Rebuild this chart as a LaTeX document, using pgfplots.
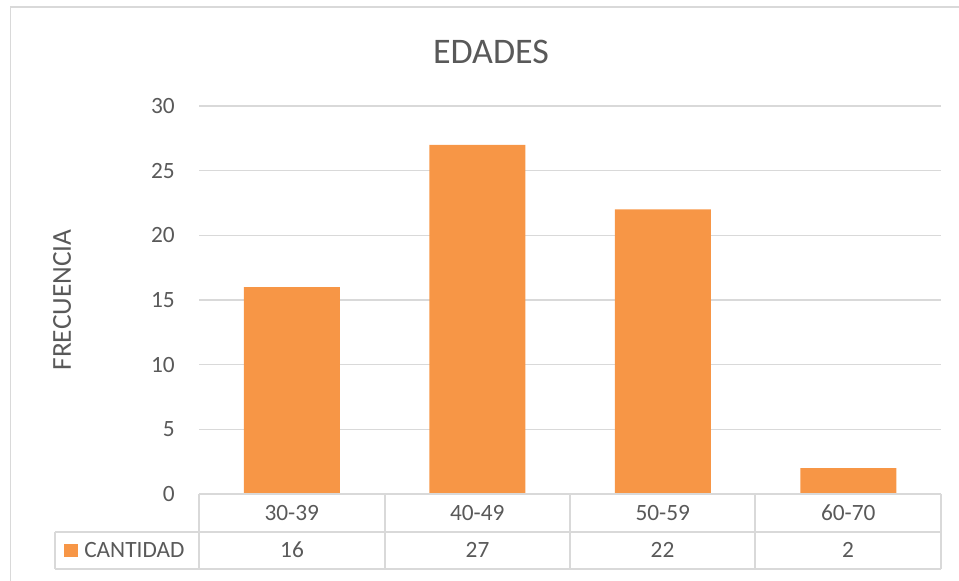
\documentclass[border=0pt]{standalone}
\usepackage{fontspec}
\setmainfont{Carlito}
\usepackage{pgfplots}
\pgfplotsset{compat=1.18}
\definecolor{barc}{HTML}{F79646}
\definecolor{txt}{HTML}{595959}
\definecolor{gridc}{HTML}{D9D9D9}
\newcommand{\sm}{\fontsize{17.5}{21}\selectfont}
\begin{document}
\begin{tikzpicture}[x=0.75pt,y=0.75pt]
\path[use as bounding box] (0,0) rectangle (959,581);
\draw[gridc, line width=1.2pt] (10.5,0) -- (10.5,574) -- (959,574);
\begin{axis}[
  at={(149.25pt,65.25pt)}, anchor=south west,
  scale only axis, width=556.5pt, height=291pt,
  xmin=0, xmax=4, ymin=0, ymax=30,
  ytick={0,5,...,30},
  xtick={0.5,1.5,2.5,3.5},
  xticklabels={30-39,40-49,50-59,60-70},
  axis line style={draw=none},
  major tick length=0pt,
  ymajorgrids, major grid style={gridc, line width=0.9pt},
  /pgf/number format/assume math mode=true,
  tick label style={font=\sm, text=txt},
  yticklabel style={anchor=east, inner sep=0pt, xshift=-18pt},
  xticklabel style={anchor=center, inner sep=0pt, yshift=-14.25pt},
  clip=false,
]
\addplot[ybar, fill=barc, draw=none, bar width=72pt] coordinates {(0.5,16) (1.5,27) (2.5,22) (3.5,2)};
\end{axis}
% data table
\begin{scope}[gridc, line width=0.9pt]
\draw (199,87) -- (941,87);
\draw (55,49) -- (941,49);
\draw (55,12) -- (941,12);
\foreach \xx in {199,385,570,755,941} \draw (\xx,87) -- (\xx,12);
\draw (55,49) -- (55,12);
\end{scope}
\foreach \xx/\v in {292/16,477.5/27,662.5/22,848/2}
  \node[font=\sm, text=txt, inner sep=0pt] at (\xx,31) {\v};
\fill[barc] (63.5,24) rectangle (78,37);
\node[font=\sm, text=txt, anchor=west, inner sep=0pt] at (84,31) {CANTIDAD};
\node[font=\fontsize{27}{32}\selectfont, text=txt, inner sep=0pt] at (491,529) {EDADES};
\node[font=\fontsize{20.5}{24}\selectfont, text=txt, rotate=90, inner sep=0pt] at (62,281) {FRECUENCIA};
\end{tikzpicture}
\end{document}
